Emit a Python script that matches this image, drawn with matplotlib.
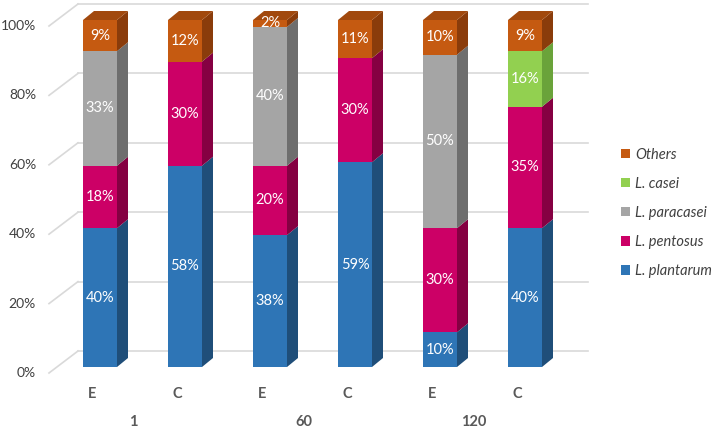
import matplotlib
matplotlib.use("Agg")
import matplotlib.pyplot as plt
from matplotlib.patches import Polygon, Patch
import numpy as np

# ---- data ----
groups = ["1", "60", "120"]
conditions = ["E", "C", "E", "C", "E", "C"]
species = ["L. plantarum", "L. pentosus", "L. paracasei", "L. casei", "Others"]
plantarum = [40, 58, 38, 59, 10, 40]
pentosus = [18, 30, 20, 30, 30, 35]
paracasei = [33, 0, 40, 0, 50, 0]
casei = [0, 0, 0, 0, 0, 16]
others = [9, 12, 2, 11, 10, 9]
yticks = [0, 20, 40, 60, 80, 100]

series = [plantarum, pentosus, paracasei, casei, others]
front_cols = ["#2E75B6", "#CC0066", "#A5A5A5", "#92D050", "#C55A11"]
side_cols = ["#1F4E79", "#850042", "#6E6E6E", "#6AA33A", "#8A3C0B"]
top_cols = ["#245D91", "#A30051", "#8A8A8A", "#7DBB45", "#A1490E"]

plt.rcParams['font.family'] = ['Lato', 'DejaVu Sans']

W, H = 714, 430
fig = plt.figure(figsize=(W / 100, H / 100), dpi=100)
# front plane: left 57px, right 597px, y0 at 367px, y100 at 20px
ax = fig.add_axes([57 / W, 1 - 367 / H, 540 / W, 347 / H])
unit_px = 85.0
ax.set_xlim(-(100 - 57) / unit_px, (597 - 100) / unit_px)
ax.set_ylim(0, 100)
ax.axis("off")

ypx = 347 / 100.0
bw = 34 / unit_px
ddx, ddy = 11 / unit_px, 9 / ypx          # bar depth
wdy = 16 / ypx                            # back wall depth (vertical)
wall_x = (78 - 100) / unit_px             # back wall left edge
fx, fy = (49 - 100) / unit_px, -6 / ypx   # front of floor diagonals
grid_right = (588 - 100) / unit_px
grid_col = "#D9D9D9"
txt_col = "#404040"

# gridlines on wall and diagonal side
for v in yticks:
    ax.plot([wall_x, grid_right], [v + wdy, v + wdy],
            color=grid_col, lw=1.2, zorder=0, clip_on=False)
    ax.plot([fx, wall_x], [v + fy, v + wdy], color=grid_col, lw=1.2,
            zorder=0, clip_on=False)
    ax.text(fx - 13 / unit_px, v + fy, f"{v}%", ha="right", va="center",
            fontsize=10, color=txt_col)

x = np.arange(len(conditions))
bottom = np.zeros(len(conditions))
for s, vals in enumerate(series):
    vals = np.array(vals, dtype=float)
    ax.bar(x, vals, width=bw, bottom=bottom, color=front_cols[s], zorder=2,
           linewidth=0)
    for i in range(len(x)):
        if vals[i] <= 0:
            continue
        b, t = bottom[i], bottom[i] + vals[i]
        xr = x[i] + bw / 2
        ax.add_patch(Polygon([(xr, b), (xr, t), (xr + ddx, t + ddy), (xr + ddx, b + ddy)],
                             closed=True, facecolor=side_cols[s], edgecolor="none",
                             zorder=2, clip_on=False))
        ax.text(x[i], (b + t) / 2, f"{int(vals[i])}%", ha="center", va="center",
                color="white", fontsize=10.5, zorder=4)
    bottom = bottom + vals

# top faces
for i in range(len(x)):
    top_series = max(s for s in range(len(series)) if series[s][i] > 0)
    t = bottom[i]
    xl, xr = x[i] - bw / 2, x[i] + bw / 2
    ax.add_patch(Polygon([(xl, t), (xr, t), (xr + ddx, t + ddy), (xl + ddx, t + ddy)],
                         closed=True, facecolor=top_cols[top_series], edgecolor="none",
                         zorder=3, clip_on=False))

# category labels
for i, c in enumerate(conditions):
    ax.text(x[i] - 8 / unit_px, -27 / ypx, c, ha="center", va="center",
            fontsize=10.5, fontweight="bold", color="#595959")
for g, name in enumerate(groups):
    ax.text(2 * g + 0.5 - 9 / unit_px, -55 / ypx, name, ha="center", va="center",
            fontsize=10.5, fontweight="bold", color="#595959")

handles = [Patch(facecolor=front_cols[s], edgecolor="none") for s in range(len(species))][::-1]
labels = species[::-1]
leg = fig.legend(handles, labels, loc="center left", bbox_to_anchor=(621 / W, 1 - 213 / H),
                 frameon=False, handlelength=0.6, handleheight=0.6, handletextpad=0.35,
                 borderpad=0, borderaxespad=0,
                 labelspacing=1.03, prop={"style": "italic", "size": 10.5})
for t in leg.get_texts():
    t.set_color(txt_col)

fig.savefig("out.png", dpi=100)
